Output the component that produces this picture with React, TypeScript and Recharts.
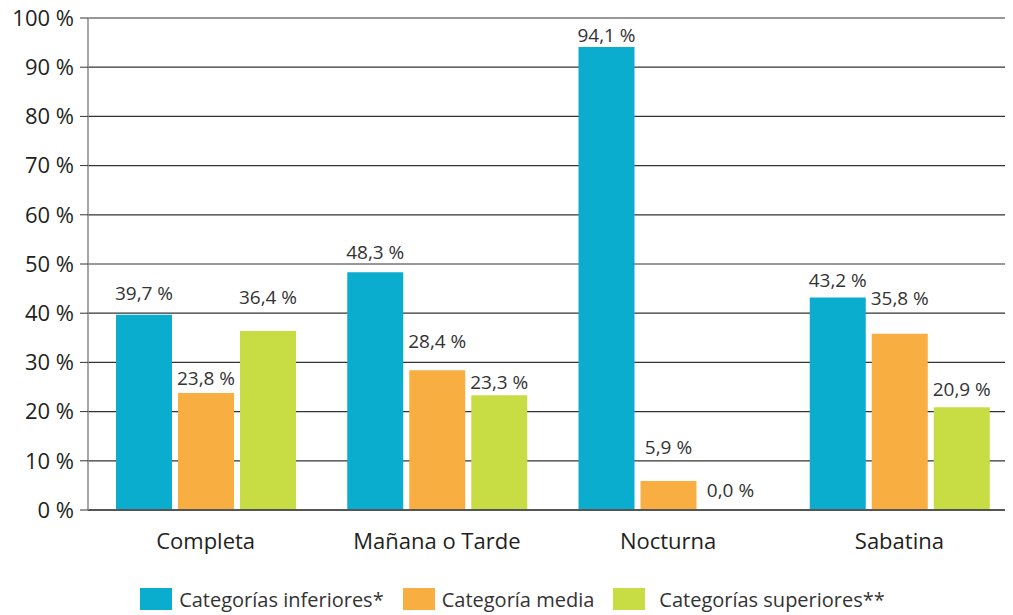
import { BarChart, Bar, XAxis, YAxis, CartesianGrid, Legend, LabelList } from 'recharts'

const jornadas = ['Completa', 'Mañana o Tarde', 'Nocturna', 'Sabatina']
const inferiores = [39.7, 48.3, 94.1, 43.2]
const media = [23.8, 28.4, 5.9, 35.8]
const superiores = [36.4, 23.3, 0.0, 20.9]
const yTicks = [0, 10, 20, 30, 40, 50, 60, 70, 80, 90, 100]

// how far (px) each value label sits above its bar, as in the original layout
const labelLift: Record<string, number[]> = {
  inferiores: [22, 20, 12, 17],
  media: [15, 29, 34, 36],
  superiores: [34, 13, 20, 18],
}

const series = [
  { key: 'inferiores', name: 'Categorías inferiores*', color: '#0aadcd' },
  { key: 'media', name: 'Categoría media', color: '#f9ae41' },
  { key: 'superiores', name: 'Categorías superiores**', color: '#c8dc44' },
]

const data = jornadas.map((j, i) => ({
  jornada: j,
  inferiores: inferiores[i],
  media: media[i],
  superiores: superiores[i],
}))

const FONT = '"Open Sans", "Noto Sans", sans-serif'
const pct = (v: any) => `${Number(v).toFixed(1).replace('.', ',')} %`

function TopLabel(props: any) {
  const { x, y, width, height, value, index, seriesKey } = props
  if (value == null) return null
  const top = Math.min(y, y + (height || 0))
  const lift = labelLift[seriesKey]?.[index] ?? 16
  return (
    <text x={x + width / 2} y={top - lift} dominantBaseline="central" textAnchor="middle" fontSize={19} fill="#333" fontFamily={FONT}>
      {pct(value)}
    </text>
  )
}

function LegendBox() {
  return (
    <div style={{ boxSizing: 'border-box', height: 53, paddingBottom: 3, paddingLeft: 20, display: 'flex', justifyContent: 'center', alignItems: 'flex-end', fontFamily: FONT, fontSize: 20, color: '#333' }}>
      {series.map((s, i) => (
        <div key={s.key} style={{ display: 'flex', alignItems: 'center', marginLeft: i ? 19 : 0, height: 26 }}>
          <span style={{ display: 'inline-block', width: 32, height: 22, background: s.color, marginRight: i === 2 ? 14 : 7 }} />
          <span>{s.name}</span>
        </div>
      ))}
    </div>
  )
}

export default function App() {
  return (
    <div style={{ position: 'absolute', left: 0, top: 0, width: 1013, height: 615, background: '#fff' }}>
      <BarChart width={1013} height={615} data={data} margin={{ top: 18, right: 8, left: 0, bottom: 0 }} barGap={6} barSize={56}>
        <CartesianGrid vertical={false} stroke="#333" strokeWidth={1.2} />
        <XAxis
          dataKey="jornada"
          height={52}
          tickSize={0}
          tickMargin={23}
          padding={{ left: 2, right: -10 }}
          axisLine={{ stroke: '#555', strokeWidth: 2 }}
          tick={{ fontSize: 22, fill: '#231f20', fontFamily: FONT }}
        />
        <YAxis
          domain={[0, 100]}
          ticks={yTicks}
          width={88}
          tickSize={8}
          tickMargin={6}
          interval={0}
          axisLine={{ stroke: '#888', strokeWidth: 1.5 }}
          tickLine={{ stroke: '#333' }}
          tickFormatter={(v) => `${v} %`}
          tick={{ fontSize: 22, fill: '#231f20', fontFamily: FONT }}
        />
        <Legend verticalAlign="bottom" height={53} content={() => <LegendBox />} />
        {series.map((s) => (
          <Bar
            key={s.key}
            dataKey={s.key}
            name={s.name}
            fill={s.color}
            minPointSize={(v: any) => (v === 0 ? 0.01 : 0)}
            isAnimationActive={false}
          >
            <LabelList dataKey={s.key} content={<TopLabel seriesKey={s.key} />} />
          </Bar>
        ))}
      </BarChart>
    </div>
  )
}
